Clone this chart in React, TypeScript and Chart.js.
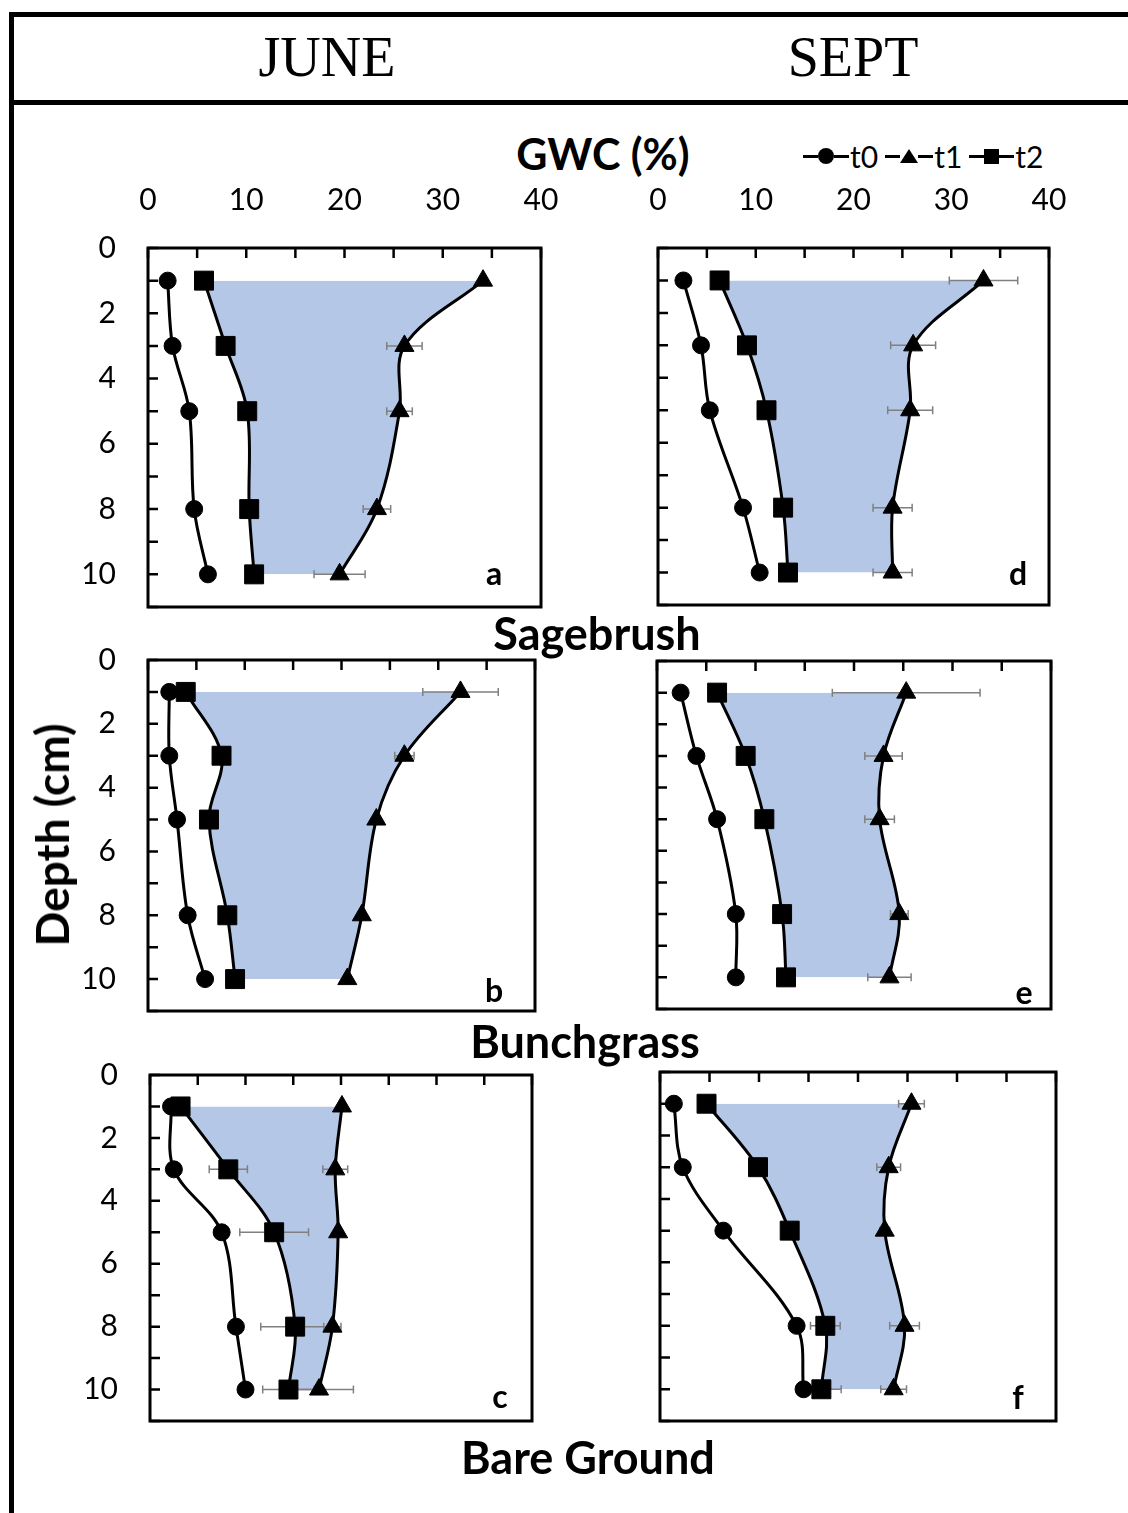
import React, { useEffect, useRef } from 'react';
import { Chart, registerables } from 'chart.js';

Chart.register(...registerables);

// ---------------- DATA ----------------
const depthLevels = [1, 3, 5, 8, 10];
const gwcTickLabels = [0, 10, 20, 30, 40];
const depthTickLabels = [0, 2, 4, 6, 8, 10];
const seriesNames = ['t0', 't1', 't2'];
const columnTitles = ['JUNE', 'SEPT'];
const rowTitles = ['Sagebrush', 'Bunchgrass', 'Bare Ground'];

// (a) June – Sagebrush
const juneSageT0 = [2.0, 2.5, 4.2, 4.7, 6.1];
const juneSageT1 = [34.1, 26.1, 25.6, 23.3, 19.5];
const juneSageT2 = [5.7, 7.9, 10.1, 10.3, 10.8];
const juneSageT1Err = [0, 1.8, 1.3, 1.4, 2.6];
const juneSageT2Err = [0, 0, 0, 0, 0];

// (d) Sept – Sagebrush
const septSageT0 = [2.6, 4.4, 5.3, 8.7, 10.4];
const septSageT1 = [33.3, 26.1, 25.8, 24.0, 24.0];
const septSageT2 = [6.3, 9.1, 11.1, 12.8, 13.3];
const septSageT1Err = [3.5, 2.3, 2.3, 2.0, 2.0];
const septSageT2Err = [0, 0, 0, 0, 0];

// (b) June – Bunchgrass
const juneBunchT0 = [2.2, 2.2, 3.0, 4.1, 5.9];
const juneBunchT1 = [32.3, 26.5, 23.6, 22.1, 20.6];
const juneBunchT2 = [3.9, 7.6, 6.3, 8.2, 9.0];
const juneBunchT1Err = [3.9, 1.0, 0, 0, 0];
const juneBunchT2Err = [0, 0, 0, 0, 0];

// (e) Sept – Bunchgrass
const septBunchT0 = [2.4, 4.0, 6.1, 8.0, 8.0];
const septBunchT1 = [25.3, 23.0, 22.6, 24.6, 23.6];
const septBunchT2 = [6.1, 9.0, 10.9, 12.7, 13.1];
const septBunchT1Err = [7.5, 1.9, 1.5, 0.9, 2.2];
const septBunchT2Err = [0, 0, 0, 0, 0];

// (c) June – Bare Ground
const juneBareT0 = [2.2, 2.5, 7.5, 9.0, 10.0];
const juneBareT1 = [20.1, 19.4, 19.7, 19.1, 17.7];
const juneBareT2 = [3.2, 8.2, 13.0, 15.2, 14.5];
const juneBareT1Err = [0, 1.3, 0, 0.9, 3.6];
const juneBareT2Err = [0, 2.0, 3.6, 3.6, 2.7];

// (f) Sept – Bare Ground
const septBareT0 = [1.4, 2.3, 6.4, 13.8, 14.5];
const septBareT1 = [25.4, 23.1, 22.7, 24.7, 23.6];
const septBareT2 = [4.7, 9.9, 13.1, 16.7, 16.3];
const septBareT1Err = [1.3, 1.2, 0.5, 1.5, 1.3];
const septBareT2Err = [0, 0, 0, 1.5, 2.0];

// ---------------- STYLE / LAYOUT ----------------
const FONT = 'Lato, "Open Sans", sans-serif';
const FILL = 'rgb(180,199,231)';
const ERR = 'rgb(128,128,128)';

const panels = [
  { letter: 'a', box: { left: 148, top: 248, right: 541, bottom: 607 }, showX: true, showY: true,
    t0: juneSageT0, t1: juneSageT1, t2: juneSageT2, e1: juneSageT1Err, e2: juneSageT2Err, lx: 494, ly: 573 },
  { letter: 'd', box: { left: 658, top: 248, right: 1049, bottom: 605 }, showX: true, showY: false,
    t0: septSageT0, t1: septSageT1, t2: septSageT2, e1: septSageT1Err, e2: septSageT2Err, lx: 1018, ly: 573 },
  { letter: 'b', box: { left: 148, top: 660, right: 535, bottom: 1011 }, showX: false, showY: true,
    t0: juneBunchT0, t1: juneBunchT1, t2: juneBunchT2, e1: juneBunchT1Err, e2: juneBunchT2Err, lx: 494, ly: 990 },
  { letter: 'e', box: { left: 657, top: 661, right: 1051, bottom: 1009 }, showX: false, showY: false,
    t0: septBunchT0, t1: septBunchT1, t2: septBunchT2, e1: septBunchT1Err, e2: septBunchT2Err, lx: 1024, ly: 992 },
  { letter: 'c', box: { left: 150, top: 1075, right: 532, bottom: 1421 }, showX: false, showY: true,
    t0: juneBareT0, t1: juneBareT1, t2: juneBareT2, e1: juneBareT1Err, e2: juneBareT2Err, lx: 500, ly: 1396 },
  { letter: 'f', box: { left: 660, top: 1072, right: 1056, bottom: 1421 }, showX: false, showY: false,
    t0: septBareT0, t1: septBareT1, t2: septBareT2, e1: septBareT1Err, e2: septBareT2Err, lx: 1018, ly: 1397 },
];

function Panel(props: any) {
  const { box, showX, showY, t0, t1, t2, e1, e2 } = props;
  const ref = useRef<HTMLCanvasElement | null>(null);
  const PL = 100;
  const PR = 60;
  const PB = 60;
  const PT = showX ? 90 : 60;
  const W = box.right - box.left + PL + PR;
  const H = box.bottom - box.top + PT + PB;

  useEffect(() => {
    const toPts = (vals: number[]) => depthLevels.map((d, i) => ({ x: vals[i], y: d }));
    const errSets = [null, e1, e2];

    const decor = {
      id: 'panelDecor',
      beforeDatasetsDraw(chart: any) {
        const ctx = chart.ctx;
        const xs = chart.scales.x;
        const ys = chart.scales.y;
        ctx.save();
        ctx.strokeStyle = ERR;
        ctx.lineWidth = 1.5;
        const series = [t0, t1, t2];
        errSets.forEach((errs: any, si: number) => {
          if (!errs) return;
          errs.forEach((e: number, j: number) => {
            if (!e) return;
            const v = series[si][j];
            const xl = xs.getPixelForValue(v - e);
            const xr = xs.getPixelForValue(v + e);
            const y = ys.getPixelForValue(depthLevels[j]);
            ctx.beginPath();
            ctx.moveTo(xl, y); ctx.lineTo(xr, y);
            ctx.moveTo(xl, y - 4); ctx.lineTo(xl, y + 4);
            ctx.moveTo(xr, y - 4); ctx.lineTo(xr, y + 4);
            ctx.stroke();
          });
        });
        ctx.restore();
      },
      afterDraw(chart: any) {
        const ctx = chart.ctx;
        const a = chart.chartArea;
        const xs = chart.scales.x;
        const ys = chart.scales.y;
        ctx.save();
        ctx.strokeStyle = '#000';
        ctx.lineWidth = 2.5;
        ctx.beginPath();
        xs.ticks.forEach((t: any) => {
          const px = xs.getPixelForValue(t.value);
          ctx.moveTo(px, a.top); ctx.lineTo(px, a.top + 10);
        });
        ys.ticks.forEach((t: any) => {
          const py = ys.getPixelForValue(t.value);
          ctx.moveTo(a.left, py); ctx.lineTo(a.left + 10, py);
        });
        ctx.stroke();
        ctx.lineWidth = 3;
        ctx.strokeRect(a.left, a.top, a.right - a.left, a.bottom - a.top);
        ctx.restore();
      },
    };

    const chart = new Chart(ref.current as HTMLCanvasElement, {
      type: 'line',
      data: {
        datasets: [
          { label: seriesNames[0], data: toPts(t0), borderColor: '#000', backgroundColor: '#000',
            pointBackgroundColor: '#000', pointBorderColor: '#000', pointStyle: 'circle', pointRadius: 8.5, fill: false },
          { label: seriesNames[1], data: toPts(t1), borderColor: '#000', backgroundColor: '#000',
            pointBackgroundColor: '#000', pointBorderColor: '#000', pointStyle: 'triangle', pointRadius: 11, fill: false },
          { label: seriesNames[2], data: toPts(t2), borderColor: '#000', backgroundColor: FILL,
            pointBackgroundColor: '#000', pointBorderColor: '#000', pointStyle: 'rect', pointRadius: 13.4, fill: 1 },
        ],
      } as any,
      options: {
        responsive: false,
        animation: false,
        indexAxis: 'y',
        layout: { padding: { left: 0, top: 0, right: PR, bottom: PB } },
        elements: {
          line: { tension: 0.35, borderWidth: 3, borderJoinStyle: 'round' },
          point: { borderWidth: 1 },
        },
        plugins: {
          legend: { display: false },
          tooltip: { enabled: false },
          filler: { drawTime: 'beforeDatasetsDraw' },
        },
        scales: {
          x: {
            type: 'linear', position: 'top', min: 0, max: 40,
            grid: { display: false, drawTicks: false },
            border: { display: false },
            ticks: {
              stepSize: 5, autoSkip: false, maxRotation: 0, padding: 30, color: '#000',
              font: { family: FONT, size: 30 },
              callback: (v: any) => (showX && gwcTickLabels.includes(v) ? String(v) : ''),
            },
            afterFit: (s: any) => { s.height = PT; },
          },
          y: {
            type: 'linear', reverse: true, min: 0, max: 11,
            grid: { display: false, drawTicks: false },
            border: { display: false },
            ticks: {
              stepSize: 1, autoSkip: false, padding: 32, color: '#000',
              font: { family: FONT, size: 30 },
              callback: (v: any) => (showY && depthTickLabels.includes(v) ? String(v) : ''),
            },
            afterFit: (s: any) => { s.width = PL; },
          },
        },
      } as any,
      plugins: [decor],
    });
    return () => chart.destroy();
  }, []);

  return (
    <canvas
      ref={ref}
      width={W}
      height={H}
      style={{ position: 'absolute', left: box.left - PL, top: box.top - PT, width: W, height: H }}
    />
  );
}

function Label(props: any) {
  const { x, y, text, size, bold, serif, rotate } = props;
  return (
    <div
      style={{
        position: 'absolute', left: x, top: y,
        transform: `translate(-50%, -50%)${rotate ? ' rotate(-90deg)' : ''}`,
        fontFamily: serif ? '"Liberation Serif", "Times New Roman", serif' : FONT,
        fontSize: size, fontWeight: bold ? 700 : 400, lineHeight: 1, whiteSpace: 'nowrap', color: '#000',
      }}
    >
      {text}
    </div>
  );
}

function LegendItem(props: any) {
  const { shape, name } = props;
  const seg = <div style={{ width: 15, height: 3, background: '#000' }} />;
  let marker;
  if (shape === 'circle') marker = <div style={{ width: 16, height: 16, borderRadius: '50%', background: '#000' }} />;
  else if (shape === 'triangle')
    marker = <div style={{ width: 0, height: 0, borderLeft: '9px solid transparent', borderRight: '9px solid transparent', borderBottom: '14px solid #000' }} />;
  else marker = <div style={{ width: 15, height: 15, background: '#000' }} />;
  return (
    <div style={{ display: 'flex', alignItems: 'center', marginRight: 7 }}>
      {seg}{marker}{seg}
      <span style={{ fontFamily: FONT, fontSize: 30, lineHeight: 1, marginLeft: 1 }}>{name}</span>
    </div>
  );
}

export default function App() {
  const shapes = ['circle', 'triangle', 'rect'];
  return (
    <div style={{ position: 'absolute', left: 0, top: 0, width: 1128, height: 1513, background: '#fff', overflow: 'hidden' }}>
      {/* frame lines */}
      <div style={{ position: 'absolute', left: 9, top: 12, width: 1119, height: 5, background: '#000' }} />
      <div style={{ position: 'absolute', left: 9, top: 100, width: 1119, height: 5, background: '#000' }} />
      <div style={{ position: 'absolute', left: 9, top: 12, width: 5, height: 1501, background: '#000' }} />

      <Label x={327} y={57} text={columnTitles[0]} size={56} serif />
      <Label x={853} y={57} text={columnTitles[1]} size={56} serif />

      <Label x={603} y={153} text="GWC (%)" size={43} bold />
      <div style={{ position: 'absolute', left: 803, top: 156, transform: 'translateY(-50%)', display: 'flex', alignItems: 'center' }}>
        {seriesNames.map((n, i) => <LegendItem key={n} name={n} shape={shapes[i]} />)}
      </div>

      {panels.map((p) => (
        <Panel key={p.letter} {...p} />
      ))}
      {panels.map((p) => (
        <Label key={'l' + p.letter} x={p.lx} y={p.ly} text={p.letter} size={32} bold />
      ))}

      <Label x={52} y={835} text="Depth (cm)" size={46} bold rotate />
      <Label x={597} y={633} text={rowTitles[0]} size={45} bold />
      <Label x={585} y={1041} text={rowTitles[1]} size={45} bold />
      <Label x={588} y={1457} text={rowTitles[2]} size={45} bold />
    </div>
  );
}
